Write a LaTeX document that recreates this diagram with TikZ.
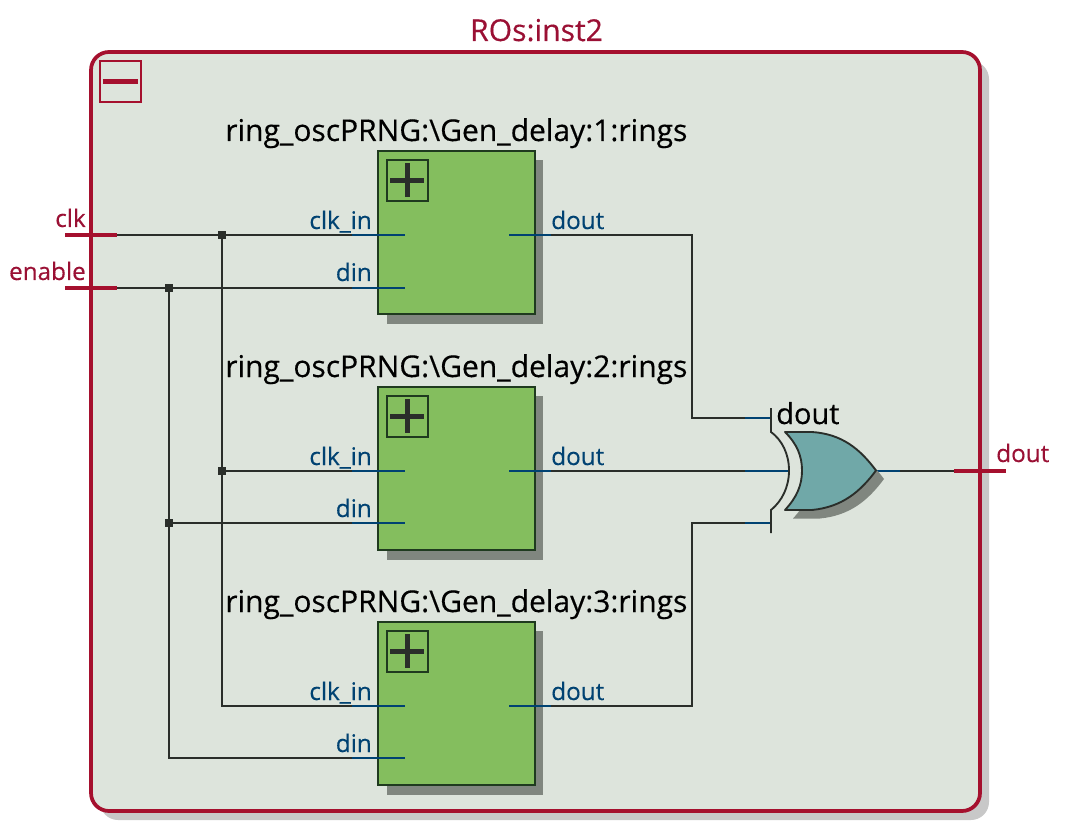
\documentclass[tikz,border=0pt]{standalone}
\usepackage{fontspec}
\setmainfont{Open Sans}[BoldFont=Open Sans,BoldFeatures={FakeBold=0.35}]
\usetikzlibrary{calc}
\definecolor{frameRed}{HTML}{A5102E}
\definecolor{textRed}{HTML}{9A1034}
\definecolor{pinBlue}{HTML}{004272}
\definecolor{wireDark}{HTML}{2A2E2A}
\definecolor{panelFill}{HTML}{DDE4DC}
\definecolor{panelShadow}{HTML}{C8C8C8}
\definecolor{blockGreen}{HTML}{84BE5E}
\definecolor{blockEdge}{HTML}{1F3A1F}
\definecolor{blockShadow}{HTML}{80867F}
\definecolor{gateTeal}{HTML}{70A8A8}
\newcommand{\pxsize}[1]{\fontsize{#1}{#1}\selectfont\bfseries}
\tikzset{
  x=0.75pt,y=-0.75pt,
  wire/.style={draw=wireDark,line width=1.4pt},
  pinwire/.style={draw=pinBlue,line width=1.4pt},
  portbar/.style={draw=frameRed,line width=2.6pt},
  dotnode/.style={fill=wireDark,minimum size=6pt,inner sep=0pt,outer sep=0pt,draw=none},
  ablock/.style={draw=blockEdge,fill=blockGreen,line width=1.6pt,minimum width=117.5pt,minimum height=122pt,inner sep=0pt,outer sep=0pt},
  ashadow/.style={fill=blockShadow,draw=none,minimum width=117pt,minimum height=122.5pt,inner sep=0pt},
  pintext/.style={text=pinBlue,font=\pxsize{18.2},inner sep=0pt},
  redtext/.style={text=textRed,font=\pxsize{18.2},inner sep=0pt},
  titletext/.style={text=black,font=\pxsize{22.5},inner sep=0pt}
}
\newcommand{\ringblock}[4]{% name, top y, title, din y
  \node[ashadow,anchor=north west] (#1s) at (387,#2+9) {};
  \node[ablock,anchor=north west] (#1) at (378,#2) {};
  \node[titletext,anchor=base west] (#1t) at (225,#2-10) {#3};
  \node[draw=blockEdge,line width=1.4pt,minimum size=30.5pt,inner sep=0pt,anchor=north west] (#1p) at (386,#2+8) {};
  \draw[wireDark,line width=3.8pt] (#1p.center) ++(-17,0) -- ++(34,0);
  \draw[wireDark,line width=3.8pt] (#1p.center) ++(0,-17) -- ++(0,34);
  \coordinate (#1ci) at (405,#2+84);
  \coordinate (#1cm) at (352,#2+84);
  \coordinate (#1di) at (405,#4);
  \coordinate (#1dm) at (352,#4);
  \coordinate (#1ou) at (509,#2+84);
  \coordinate (#1om) at (551,#2+84);
  \node[pintext,anchor=base east] (#1cl) at (372,#2+78) {clk\_in};
  \node[pintext,anchor=base east] (#1dl) at (372,#2+130) {din};
  \node[pintext,anchor=base west] (#1ol) at (551,#2+78) {dout};
}
\begin{document}
\begin{tikzpicture}
\useasboundingbox (0,0) rectangle (1067,827);
% panel
\fill[panelShadow,rounded corners=13.5pt] (100,61) rectangle (989,820);
\draw[draw=frameRed,fill=panelFill,line width=2.8pt,rounded corners=13.5pt] (91,52) rectangle (980,811);
\node[text=textRed,font=\pxsize{22.6},inner sep=0pt,anchor=base] (paneltitle) at (536.5,41) {ROs:inst2};
\node[draw=frameRed,line width=1.4pt,minimum size=30.5pt,inner sep=0pt,anchor=north west] (minusbox) at (99,60) {};
\draw[frameRed,line width=3.8pt] (minusbox.center) ++(-17.5,0) -- ++(35,0);
% blocks
\ringblock{ra}{151}{ring\_oscPRNG:\textbackslash Gen\_delay:1:rings}{288}
\ringblock{rb}{387}{ring\_oscPRNG:\textbackslash Gen\_delay:2:rings}{523}
\ringblock{rc}{622}{ring\_oscPRNG:\textbackslash Gen\_delay:3:rings}{758}
% ports
\coordinate (clkA) at (65,235); \coordinate (clkB) at (117,235);
\coordinate (enA) at (65,288); \coordinate (enB) at (117,288);
\coordinate (outA) at (954,471); \coordinate (outB) at (1006,471);
\node[redtext,anchor=base east] (clkl) at (86,227) {clk};
\node[redtext,anchor=base east] (enl) at (86,280) {enable};
\node[redtext,anchor=base west] (outl) at (996,462) {dout};
% wires
\node[dotnode] (j1) at (222,235) {};
\node[dotnode] (j2) at (169,288) {};
\node[dotnode] (j3) at (222,471) {};
\node[dotnode] (j4) at (169,523) {};
\draw[wire] (clkB) -- (racm);
\draw[wire] (enB) -- (radm);
\draw[wire] (j1) -- (j3) -- (rccm -| j3);
\draw[wire,line cap=rect] (rccm -| j3) -- (rccm);
\draw[wire] (j2) -- (j4) -- (rcdm -| j4);
\draw[wire,line cap=rect] (rcdm -| j4) -- (rcdm);
\draw[wire] (j3) -- (rbcm);
\draw[wire] (j4) -- (rbdm);
\foreach \b in {ra,rb,rc}{
  \draw[pinwire] (\b cm) -- (\b ci);
  \draw[pinwire] (\b dm) -- (\b di);
  \draw[pinwire] (\b ou) -- (\b om);
}
% gate
\coordinate (gi1) at (771,418); \coordinate (gi3) at (771,523);
\coordinate (gm1) at (745,418); \coordinate (gm2) at (745,471); \coordinate (gm3) at (745,523);
\coordinate (gb2) at (789,471);
\coordinate (gout) at (876,471); \coordinate (goutm) at (900,471);
\coordinate (ta) at (692,418); \coordinate (tb) at (692,523);
\draw[wire] (raom) -- (raom -| ta) -- (ta) -- (gm1);
\draw[wire] (rbom) -- (gm2);
\draw[wire] (rcom) -- (rcom -| tb) -- (tb) -- (gm3);
\draw[pinwire] (gm1) -- (gi1);
\draw[pinwire] (gm2) -- (gb2);
\draw[pinwire] (gm3) -- (gi3);
\draw[wire] (goutm) -- (outA);
\draw[pinwire] (gout) -- (goutm);
\fill[blockShadow,shift={(8,8.5)}] (785,432) -- (812,432) .. controls (842,434) and (860,449) .. (876,470.5) .. controls (860,492) and (842,507) .. (812,510) -- (785,510) .. controls (797,497) and (802,485) .. (802,470.5) .. controls (802,456) and (797,444) .. (785,432) -- cycle;
\draw[draw=wireDark,fill=gateTeal,line width=1.4pt,line join=round] (785,432) -- (812,432) .. controls (842,434) and (860,449) .. (876,470.5) .. controls (860,492) and (842,507) .. (812,510) -- (785,510) .. controls (797,497) and (802,485) .. (802,470.5) .. controls (802,456) and (797,444) .. (785,432) -- cycle;
\draw[wire] (771,408) -- (771,432) .. controls (782,440) and (789,454) .. (789,470.5) .. controls (789,487) and (782,501) .. (771,510) -- (771,533);
\node[text=black,font=\pxsize{21.7},inner sep=0pt,anchor=base west] (gatel) at (776,424) {dout};
\draw[portbar] (clkA) -- (clkB);
\draw[portbar] (enA) -- (enB);
\draw[portbar] (outA) -- (outB);
\end{tikzpicture}
\end{document}
